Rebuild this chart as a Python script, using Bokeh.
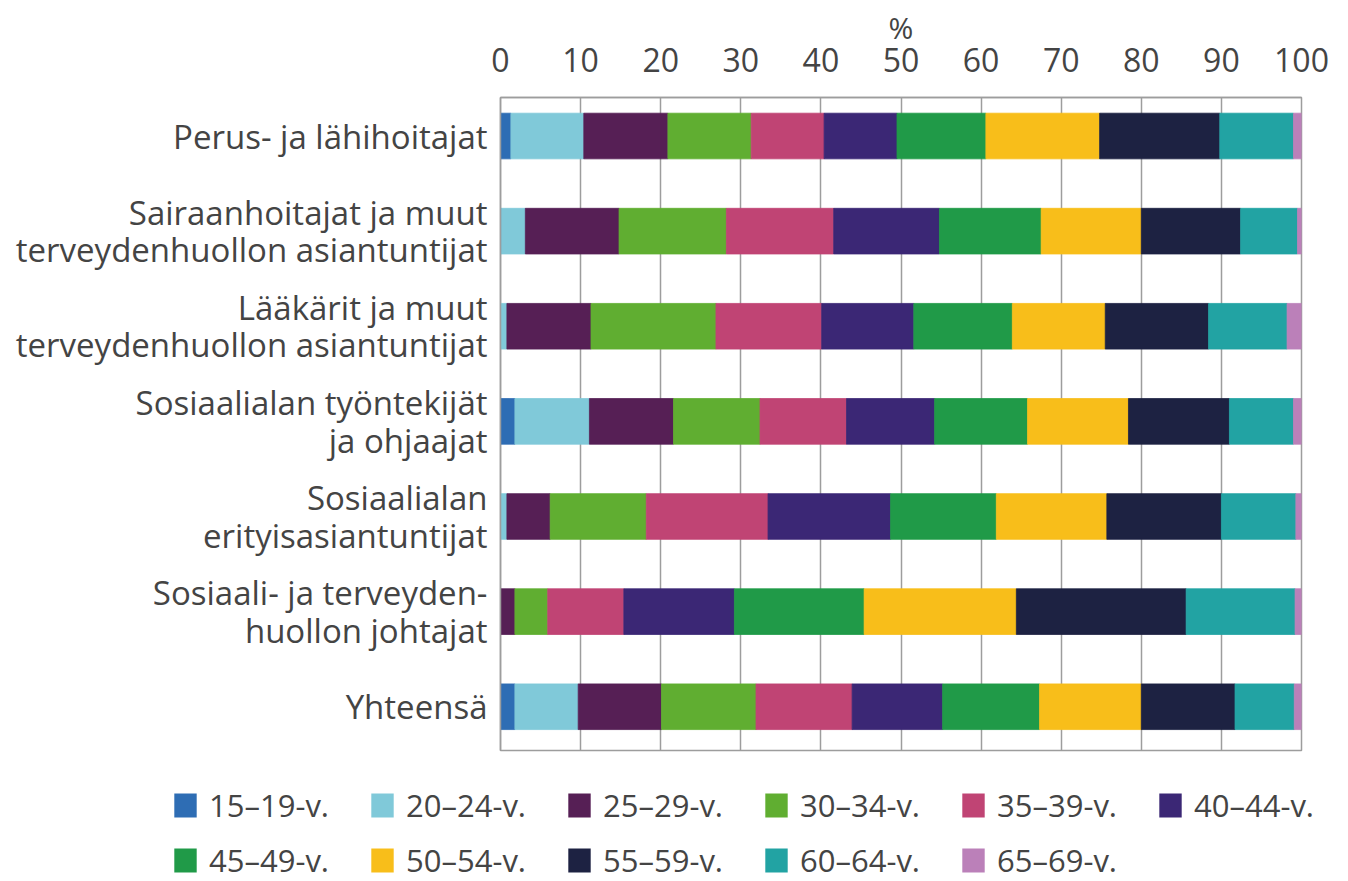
from bokeh.plotting import figure
from bokeh.models import ColumnDataSource, Range1d, FixedTicker, Legend, LegendItem
from bokeh.embed import file_html
from bokeh.resources import INLINE

categories = [
    "Perus- ja lähihoitajat",
    "Sairaanhoitajat ja muut\nterveydenhuollon asiantuntijat",
    "Lääkärit ja muut\nterveydenhuollon asiantuntijat",
    "Sosiaalialan työntekijät\nja ohjaajat",
    "Sosiaalialan\nerityisasiantuntijat",
    "Sosiaali- ja terveyden-\nhuollon johtajat",
    "Yhteensä",
]

age_groups = ["15–19-v.", "20–24-v.", "25–29-v.", "30–34-v.", "35–39-v.", "40–44-v.",
              "45–49-v.", "50–54-v.", "55–59-v.", "60–64-v.", "65–69-v."]

v15_19 = [1.3, 0.1, 0.0, 1.8, 0.0, 0.0, 1.8]
v20_24 = [9.1, 3.0, 0.8, 9.3, 0.8, 0.0, 7.9]
v25_29 = [10.5, 11.7, 10.5, 10.5, 5.4, 1.8, 10.4]
v30_34 = [10.4, 13.4, 15.6, 10.8, 12.0, 4.1, 11.8]
v35_39 = [9.1, 13.4, 13.2, 10.8, 15.2, 9.5, 12.0]
v40_44 = [9.1, 13.2, 11.5, 11.0, 15.3, 13.8, 11.3]
v45_49 = [11.1, 12.7, 12.3, 11.6, 13.2, 16.2, 12.1]
v50_54 = [14.2, 12.5, 11.6, 12.6, 13.8, 19.0, 12.7]
v55_59 = [15.0, 12.4, 12.9, 12.6, 14.3, 21.2, 11.7]
v60_64 = [9.2, 7.1, 9.8, 8.0, 9.3, 13.6, 7.4]
v65_69 = [1.0, 0.5, 1.8, 1.0, 0.7, 0.8, 0.9]

colors = ["#2e6db4", "#80c9d9", "#561f55", "#60ae31", "#c04474", "#3b2775",
          "#209a48", "#f8be1a", "#1d2242", "#22a3a3", "#bb80b9"]

x_ticks = [0, 10, 20, 30, 40, 50, 60, 70, 80, 90, 100]

series = [v15_19, v20_24, v25_29, v30_34, v35_39, v40_44, v45_49, v50_54, v55_59, v60_64, v65_69]
keys = ["a%d" % i for i in range(len(series))]
data = {"y": list(range(len(categories)))}
for k, s in zip(keys, series):
    data[k] = s
src = ColumnDataSource(data)

FONT = "Open Sans"
TXT = "#444444"
GRID = "#9d9d9d"

p = figure(width=1348, height=760, output_backend="svg", toolbar_location=None,
           x_range=Range1d(0, 100), y_range=Range1d(6.46, -0.405),
           x_axis_location="above",
           min_border_left=500, min_border_right=47, min_border_top=97, min_border_bottom=10)
p.background_fill_color = "white"
p.outline_line_color = GRID
p.outline_line_width = 1.5

renderers = p.hbar_stack(keys, y="y", height=0.48, source=src,
                         fill_color=colors, line_color=colors, line_width=0.8)

# x axis (top)
xa = p.xaxis[0]
xa.ticker = FixedTicker(ticks=x_ticks)
xa.major_tick_out = 0
xa.major_tick_in = 0
xa.minor_tick_out = 0
xa.minor_tick_in = 0
xa.axis_line_color = GRID
xa.axis_line_width = 1.5
xa.major_label_text_font = FONT
xa.major_label_text_font_size = "32px"
xa.major_label_text_color = TXT
xa.major_label_standoff = 26
xa.axis_label = "%"
xa.axis_label_text_font = FONT
xa.axis_label_text_font_size = "30px"
xa.axis_label_text_font_style = "normal"
xa.axis_label_text_color = TXT
xa.axis_label_standoff = -3

# y axis (left)
ya = p.yaxis[0]
ya.ticker = FixedTicker(ticks=list(range(len(categories))))
ya.major_label_overrides = {i: c for i, c in enumerate(categories)}
ya.major_tick_out = 0
ya.major_tick_in = 0
ya.minor_tick_out = 0
ya.minor_tick_in = 0
ya.axis_line_color = GRID
ya.axis_line_width = 1.5
ya.major_label_text_font = FONT
ya.major_label_text_font_size = "33px"
ya.major_label_text_color = TXT
ya.major_label_text_line_height = 0.83
ya.major_label_standoff = 13

p.xgrid.ticker = FixedTicker(ticks=x_ticks)
p.xgrid.grid_line_color = GRID
p.xgrid.grid_line_width = 1.5
p.ygrid.visible = False

# legend in its own strip below the chart (separate root, so no frame alignment)
pl = figure(width=1348, height=121, output_backend="svg", toolbar_location=None,
            x_range=Range1d(0, 1), y_range=Range1d(0, 1),
            min_border_left=0, min_border_right=0, min_border_top=0, min_border_bottom=0)
pl.axis.visible = False
pl.grid.visible = False
pl.outline_line_color = None
nan = float("nan")
leg_renderers = [pl.hbar(y=[nan], left=[nan], right=[nan], height=0.5, fill_color=c, line_color=None)
                 for c in colors]

legend = Legend(items=[LegendItem(label=a, renderers=[r]) for a, r in zip(age_groups, leg_renderers)],
                orientation="horizontal", ncols=6, location=(171, 0),
                label_text_font=FONT, label_text_font_size="31px", label_text_color=TXT,
                glyph_width=28, glyph_height=30, label_standoff=10, label_width=146,
                label_height=42, spacing=13, padding=0, margin=0,
                border_line_color=None, background_fill_alpha=0)
pl.add_layout(legend)

open("out.html", "w").write(file_html([p, pl], INLINE))
